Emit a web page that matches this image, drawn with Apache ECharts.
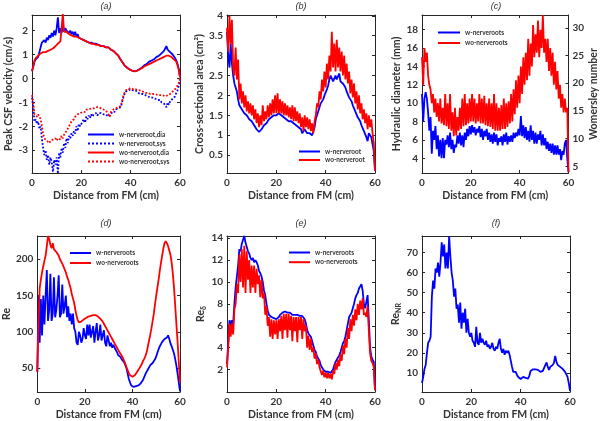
<!DOCTYPE html>
<html><head><meta charset="utf-8">
<script src="https://cdn.jsdelivr.net/npm/echarts@6/dist/echarts.min.js"></script>
<style>html,body{margin:0;padding:0;background:#fff}#c{width:600px;height:421px}</style>
</head><body><div id="c"></div>
<script>
// Distance from FM (cm)
const distance = [
0,0.5,1,1.5,2,2.5,3,3.5,4,4.5,
5,5.5,6,6.5,7,7.5,8,8.5,9,9.5,
10,10.5,11,11.5,12,12.5,13,13.5,14,14.5,
15,15.5,16,16.5,17,17.5,18,18.5,19,19.5,
20,20.5,21,21.5,22,22.5,23,23.5,24,24.5,
25,25.5,26,26.5,27,27.5,28,28.5,29,29.5,
30,30.5,31,31.5,32,32.5,33,33.5,34,34.5,
35,35.5,36,36.5,37,37.5,38,38.5,39,39.5,
40,40.5,41,41.5,42,42.5,43,43.5,44,44.5,
45,45.5,46,46.5,47,47.5,48,48.5,49,49.5,
50,50.5,51,51.5,52,52.5,53,53.5,54,54.5,
55,55.5,56,56.5,57,57.5,58,58.5,59,59.5,
60];

// (a) Peak CSF velocity (cm/s)
const velWDia = [
0.3,0.5,0.7,0.8,0.75,0.9,1.1,1.3,1.5,1.45,
1.6,1.5,1.7,1.6,1.8,1.7,1.9,1.75,2.0,1.8,
2.1,2.55,1.9,2.1,1.9,2.2,1.95,2.1,2.0,2.05,
1.9,2.0,1.85,1.95,1.8,1.95,1.75,1.85,1.7,1.75,
1.65,1.7,1.6,1.65,1.55,1.6,1.5,1.55,1.5,1.55,
1.45,1.5,1.45,1.5,1.4,1.45,1.35,1.4,1.35,1.4,
1.3,1.35,1.3,1.35,1.2,1.25,1.15,1.2,1.05,1.1,
0.95,0.85,0.8,0.7,0.65,0.55,0.5,0.45,0.4,0.38,
0.35,0.33,0.3,0.3,0.3,0.32,0.35,0.38,0.4,0.45,
0.5,0.55,0.55,0.6,0.65,0.7,0.7,0.75,0.8,0.8,
0.85,0.9,0.9,0.95,1.0,1.05,1.05,1.15,1.25,1.35,
1.2,1.15,1.1,1.1,1.0,0.95,0.85,0.75,0.6,0.4,
0.05];
const velWSys = [
-0.8,-1.2,-1.8,-1.7,-1.9,-1.8,-2.1,-2.0,-2.5,-2.9,
-3.2,-3.0,-3.4,-3.2,-3.6,-3.3,-3.5,-3.9,-3.4,-3.6,
-3.3,-3.98,-3.1,-3.3,-2.9,-3.1,-2.7,-2.9,-2.5,-2.7,
-2.4,-2.5,-2.3,-2.4,-2.2,-2.3,-2.0,-2.2,-1.9,-2.0,
-1.9,-1.8,-1.7,-1.85,-1.6,-1.7,-1.55,-1.65,-1.5,-1.6,
-1.5,-1.55,-1.45,-1.55,-1.45,-1.5,-1.45,-1.5,-1.5,-1.55,
-1.5,-1.55,-1.6,-1.65,-1.5,-1.4,-1.35,-1.4,-1.3,-1.25,
-1.25,-1.3,-1.2,-1.0,-0.8,-0.65,-0.55,-0.5,-0.5,-0.5,
-0.45,-0.5,-0.5,-0.55,-0.5,-0.55,-0.6,-0.6,-0.65,-0.6,
-0.65,-0.65,-0.7,-0.7,-0.75,-0.75,-0.8,-0.75,-0.8,-0.85,
-0.85,-0.9,-0.9,-0.95,-0.9,-1.0,-0.95,-1.05,-1.1,-1.2,
-1.0,-1.1,-0.95,-0.9,-0.85,-0.8,-0.75,-0.6,-0.5,-0.3,
0];
const velWoDia = [
0.3,0.5,0.75,0.85,0.85,0.95,1.0,1.05,1.05,1.1,
1.1,1.1,1.15,1.15,1.2,1.2,1.25,1.25,1.3,1.35,
1.4,1.45,1.5,1.55,1.6,2.7,1.95,1.9,1.95,1.9,
1.85,1.85,1.8,1.8,1.75,1.75,1.75,1.7,1.7,1.65,
1.65,1.6,1.6,1.55,1.55,1.5,1.5,1.5,1.45,1.45,
1.45,1.45,1.4,1.4,1.4,1.4,1.35,1.35,1.35,1.35,
1.3,1.3,1.3,1.3,1.2,1.2,1.15,1.15,1.05,1.05,
0.95,0.85,0.8,0.7,0.65,0.55,0.5,0.45,0.4,0.38,
0.35,0.33,0.3,0.3,0.3,0.32,0.35,0.37,0.4,0.43,
0.45,0.5,0.5,0.55,0.55,0.6,0.6,0.65,0.65,0.7,
0.7,0.75,0.75,0.8,0.8,0.85,0.85,0.9,0.9,0.95,
0.95,0.95,0.9,0.9,0.85,0.8,0.75,0.7,0.55,0.35,
0.05];
const velWoSys = [
-0.7,-1.0,-1.5,-1.45,-1.6,-1.5,-1.6,-1.7,-2.0,-2.3,
-2.5,-2.45,-2.6,-2.55,-2.7,-2.6,-2.65,-2.55,-2.6,-2.5,
-2.6,-2.5,-2.45,-2.55,-2.4,-2.5,-2.35,-2.3,-2.2,-2.1,
-2.0,-1.9,-1.8,-1.75,-1.7,-1.6,-1.55,-1.5,-1.45,-1.45,
-1.4,-1.4,-1.35,-1.4,-1.3,-1.35,-1.3,-1.3,-1.25,-1.3,
-1.25,-1.3,-1.2,-1.25,-1.2,-1.25,-1.25,-1.3,-1.3,-1.35,
-1.35,-1.4,-1.5,-1.6,-1.4,-1.35,-1.3,-1.35,-1.25,-1.2,
-1.2,-1.25,-1.15,-0.95,-0.75,-0.6,-0.5,-0.45,-0.45,-0.45,
-0.4,-0.45,-0.45,-0.5,-0.45,-0.5,-0.5,-0.55,-0.5,-0.55,
-0.55,-0.55,-0.6,-0.55,-0.6,-0.6,-0.65,-0.6,-0.65,-0.65,
-0.65,-0.7,-0.7,-0.7,-0.7,-0.75,-0.7,-0.75,-0.75,-0.75,
-0.7,-0.7,-0.65,-0.6,-0.55,-0.5,-0.45,-0.4,-0.3,-0.2,
0];

// (b) Cross-sectional area (cm2)
const areaW = [
3.6,3.0,2.7,3.3,2.8,2.5,2.3,2.2,2.1,1.9,
1.75,1.7,1.65,1.6,1.55,1.5,1.5,1.45,1.4,1.35,
1.35,1.3,1.25,1.2,1.15,1.1,1.08,1.1,1.15,1.2,
1.25,1.3,1.3,1.35,1.4,1.4,1.45,1.45,1.5,1.5,
1.5,1.5,1.55,1.5,1.5,1.45,1.45,1.45,1.4,1.4,
1.35,1.35,1.35,1.3,1.3,1.3,1.25,1.25,1.2,1.15,
1.15,1.05,1.1,1.15,1.1,1.05,1.1,1.05,1.0,1.0,
0.98,1.2,1.4,1.5,1.6,1.7,1.8,1.85,1.9,2.0,
2.05,2.15,2.25,2.4,2.5,2.45,2.35,2.4,2.5,2.4,
2.45,2.55,2.35,2.4,2.3,2.25,2.2,2.1,2.05,1.95,
1.9,1.85,1.75,1.7,1.6,1.55,1.45,1.4,1.35,1.25,
1.2,1.1,1.05,0.95,0.85,1.05,1.1,0.95,0.9,0.6,
0.1];
const areaWo = [
3.7,3.1,4.0,3.3,3.9,2.7,2.5,3.2,2.4,2.9,
1.9,2.3,1.8,2.1,1.7,2.0,1.6,1.85,1.55,1.8,
1.5,1.75,1.4,1.65,1.3,1.55,1.2,1.5,1.25,1.75,
1.35,1.6,1.4,1.75,1.45,1.8,1.5,1.9,1.55,2.0,
1.55,2.05,1.55,1.9,1.55,1.85,1.5,1.8,1.5,1.75,
1.45,1.7,1.4,1.75,1.35,1.7,1.35,1.6,1.3,1.55,
1.2,1.45,1.1,1.5,1.2,1.45,1.15,1.4,1.1,1.3,
1.05,1.35,1.5,1.8,1.7,2.1,1.9,2.4,2.1,2.6,
2.2,2.8,2.4,3.0,2.6,3.6,2.7,3.3,2.6,3.4,
2.7,3.2,2.6,3.1,2.5,3.0,2.4,2.8,2.3,2.6,
2.05,2.4,1.95,2.3,1.8,2.1,1.65,2.0,1.55,1.8,
1.4,1.65,1.3,1.55,1.15,1.5,1.2,1.4,1.05,0.8,
0.1];

// (c) Hydraulic diameter (mm)
const dhW = [
11.0,8.0,10.5,11.2,10.5,9.0,7.0,8.5,4.5,7.0,
6.0,7.5,5.0,6.5,4.2,6.0,4.0,6.2,4.0,6.0,
5.5,6.5,5.2,6.8,5.0,6.0,4.6,5.5,5.2,6.5,
5.6,6.8,5.4,6.5,5.2,6.8,6.0,7.2,6.4,7.5,
6.6,7.6,6.8,7.4,6.5,7.2,6.8,7.5,6.3,7.2,
6.0,7.0,6.4,7.2,6.0,6.8,5.8,6.6,5.6,6.8,
5.8,6.6,5.4,6.2,5.8,6.4,5.4,6.6,5.8,6.8,
5.5,6.4,5.8,6.5,5.8,6.8,6.2,6.8,6.4,7.2,
6.5,8.6,6.4,7.6,6.2,7.4,6.0,7.0,5.8,7.6,
6.0,7.0,5.6,6.8,5.6,6.6,6.0,7.0,5.4,6.6,
5.4,6.2,5.0,5.8,4.8,5.6,4.6,5.6,4.4,5.4,
4.4,5.4,4.4,5.0,3.8,4.8,4.4,5.6,6.0,4.0,
2.5];
const dhWo = [
15.0,12.0,16.0,14.5,15.5,13.0,12.0,11.5,10.0,11.0,
9.0,10.5,8.5,10.0,8.0,10.5,7.8,9.5,7.6,11.0,
7.5,10.0,7.2,11.0,7.0,9.0,6.4,9.5,6.5,8.5,
7.0,9.5,7.2,10.5,7.5,11.0,7.6,10.0,7.8,10.5,
8.0,11.0,8.0,10.5,7.8,10.0,8.0,11.0,7.8,10.5,
7.8,10.8,7.6,10.0,7.5,10.5,7.4,10.0,7.2,11.0,
7.0,10.0,7.0,9.5,7.0,9.8,7.2,10.5,7.2,10.0,
7.4,10.2,7.8,11.0,8.0,11.5,8.8,12.5,9.5,13.0,
10.0,14.0,11.0,15.0,12.0,15.5,12.5,17.0,13.0,16.5,
14.0,18.5,15.0,17.5,15.5,19.0,15.0,18.0,16.0,19.6,
15.5,17.0,14.5,17.0,13.5,16.0,13.0,15.5,12.0,14.5,
11.5,13.5,10.5,12.0,9.5,11.0,9.0,10.5,9.0,9.5,
2.5];

// (d) Re
const reW = [
45,150,85,145,95,150,110,150,185,115,
130,180,115,125,175,120,130,150,178,120,
125,165,125,135,150,120,135,115,125,110,
125,105,100,85,82,100,95,85,90,105,
95,90,110,95,110,92,100,108,85,100,
112,88,95,110,88,95,102,85,80,95,
88,80,85,78,82,78,76,72,68,66,
65,62,60,58,57,50,42,35,30,26,
24,24,24,25,26,26,27,29,30,34,
38,42,45,48,51,54,56,57,58,62,
66,71,76,80,83,86,88,90,91,92,
95,90,84,80,78,70,62,53,42,30,
18];
const reWo = [
45,110,160,172,182,190,198,205,218,232,
228,220,215,222,214,216,210,208,205,200,
198,194,190,186,182,176,172,166,160,152,
146,140,130,122,116,113,112,114,116,117,
118,119,120,121,121,122,122,123,123,123,
122,121,120,118,116,114,111,108,105,102,
99,96,93,90,87,84,81,78,75,72,
70,67,64,60,56,51,47,43,40,38,
38,39,40,42,45,47,50,53,56,60,
63,67,72,80,88,96,105,115,125,138,
150,161,172,184,195,205,215,222,225,222,
218,212,206,195,180,160,135,110,85,58,
30];

// (e) Re_delta
const redW = [
2.5,4.5,6.5,6.0,6.5,6.2,8.0,9.5,10.5,11.5,
13.0,12.8,13.5,13.4,14.2,13.6,13.5,12.8,12.6,12.2,
12.0,12.2,11.8,12.0,11.8,11.5,11.0,10.8,10.5,10.0,
9.2,8.8,8.0,7.4,7.0,6.9,6.8,6.8,6.7,6.6,
6.6,6.7,6.8,7.0,7.1,7.2,7.3,7.3,7.3,7.2,
7.3,7.2,7.1,7.0,7.0,7.0,6.9,7.0,7.0,6.9,
7.0,6.9,6.8,6.6,6.2,5.6,5.3,5.2,5.0,4.6,
4.2,3.8,3.6,3.2,3.0,2.8,2.4,2.2,2.0,1.9,
1.8,1.7,1.8,1.7,1.7,1.8,2.0,2.4,2.7,2.9,
3.0,3.3,3.6,4.0,4.4,4.6,5.0,5.6,6.2,6.8,
7.0,7.2,7.6,8.0,8.5,8.8,9.0,9.4,9.6,9.8,
9.2,8.0,7.6,8.2,8.8,6.5,4.0,3.2,2.9,2.7,
0.2];
const redWo = [
2.2,4.0,6.2,5.0,6.2,5.2,7.5,8.0,9.8,9.0,
12.5,10.0,13.0,9.5,13.3,9.0,12.8,10.2,12.0,9.0,
11.5,9.5,11.5,9.0,11.2,9.8,10.6,8.6,10.2,8.5,
9.0,7.0,7.8,6.0,6.8,5.0,6.6,4.8,6.5,5.2,
6.5,4.8,6.6,5.5,6.9,4.8,7.1,5.6,7.1,4.9,
7.1,5.6,6.9,4.6,6.8,5.5,6.8,4.5,6.8,5.6,
6.8,4.8,6.6,5.5,6.0,4.0,5.1,3.8,4.8,3.6,
4.0,3.0,3.5,2.5,2.9,2.2,2.3,1.5,1.9,1.3,
1.7,1.2,1.7,1.2,1.6,1.1,1.9,1.6,2.6,2.0,
2.9,2.3,3.4,2.8,4.2,3.4,4.8,4.0,5.8,4.8,
6.6,5.5,7.0,6.0,7.5,6.5,8.0,7.0,8.3,7.5,
8.5,7.0,7.2,6.8,7.8,5.5,3.5,2.8,2.6,2.2,
0.1];

// (f) Re_NR
const reNR = [
5,8,12,14,20,25,26,28,48,56,
52,62,60,65,58,65,75,68,74,62,
70,62,78,68,60,56,48,52,42,44,
35,45,32,40,35,42,30,37,30,28,
30,26,25,23,33,25,24,30,25,27,
25,24,26,23,24,22,23,25,22,21,
23,22,25,27,22,20,22,19,21,20,
21,19,16,13,10.5,10,10.5,9,8,7.2,
7,7.5,8,7.5,7.5,7.2,7.2,8.5,11,11.5,
11.8,11.8,11.8,11.5,11.5,11.2,10.5,10,11,12.5,
13,15.2,13,11.5,13,13.5,14,15,18.5,15.5,
14,13.5,13,12.5,12,12,10.5,10,8,5,
1];

// legend labels
const legA = ['w-nerveroot,dia','w-nerveroot,sys','wo-nerveroot,dia','wo-nerveroot,sys'];
const legB = ['w-nerveroot','wo-nerveroot'];
const legC = ['w-nerveroots','wo-nerveroots'];

const BLUE = '#0000ff', RED = '#ff0000', AX = '#262626', TXT = '#333333';
const FONT = 'Lato';

const panels = [
  {title:'(a)', left:32, top:15, yName:'Peak CSF velocity (cm/s)', yGap:14, ymin:-3.95, ymax:2.65, yticks:[-3,-2,-1,0,1,2],
   series:[[legA[0],velWDia,BLUE,'solid'],[legA[1],velWSys,BLUE,'dotted'],[legA[2],velWoDia,RED,'solid'],[legA[3],velWoSys,RED,'dotted']]},
  {title:'(b)', left:227, top:15, yName:'Cross-sectional area (cm²)', yGap:18, ymin:0.05, ymax:4.02, yticks:[0.5,1,1.5,2,2.5,3,3.5,4],
   series:[[legB[0],areaW,BLUE,'solid'],[legB[1],areaWo,RED,'solid']]},
  {title:'(c)', left:422, top:15, yName:'Hydraulic diameter (mm)', yGap:16, ymin:2.4, ymax:19.6, yticks:[4,6,8,10,12,14,16,18],
   right:{name:'Womersley number', min:3.8, max:32.3, ticks:[5,10,15,20,25,30]},
   series:[[legC[0],dhW,BLUE,'solid'],[legC[1],dhWo,RED,'solid']]},
  {title:'(d)', left:32, top:236, yName:'Re', yGap:20, ymin:17, ymax:232, yticks:[50,100,150,200],
   series:[[legC[0],reW,BLUE,'solid'],[legC[1],reWo,RED,'solid']]},
  {title:'(e)', left:227, top:236, yName:'{a|Re}{b|δ}', yGap:16, ymin:-0.05, ymax:14.2, yticks:[2,4,6,8,10,12,14],
   series:[[legC[0],redW,BLUE,'solid'],[legC[1],redWo,RED,'solid']]},
  {title:'(f)', left:422, top:236, yName:'{a|Re}{b|NR}', yGap:18, ymin:0.5, ymax:78.2, yticks:[10,20,30,40,50,60,70],
   series:[[legC[0],reNR,BLUE,'solid']]}
];
const W = 148, H = 158;

const grid=[], xAxis=[], yAxis=[], series=[], title=[];
const labelStyle = {color:TXT, fontFamily:FONT, fontWeight:'bold', fontSize:10};
const nameStyle = {color:TXT, fontFamily:FONT, fontWeight:'bold', fontSize:10.5,
  rich:{a:{color:TXT, fontFamily:FONT, fontWeight:'bold', fontSize:10.5}, b:{color:TXT, fontFamily:FONT, fontWeight:'bold', fontSize:7, padding:[6,0,0,0]}}};

panels.forEach((p,i)=>{
  grid.push({left:p.left, top:p.top, width:W, height:H, containLabel:false});
  title.push({text:p.title, left:p.left+W/2, top:(p.top < 100 ? 1.5 : 218.5), textAlign:'center', padding:0,
    textStyle:{fontSize:9, fontStyle:'italic', fontWeight:'normal', color:TXT, fontFamily:'Liberation Sans'}});
  const xb = xAxis.length;
  xAxis.push({type:'value', gridIndex:i, position:'bottom', min:0, max:60, interval:20,
    name:'Distance from FM (cm)', nameLocation:'middle', nameGap: 17, nameTextStyle:nameStyle,
    axisLine:{show:true, onZero:false, lineStyle:{color:AX, width:1}},
    axisTick:{show:true, inside:true, length:3, lineStyle:{color:AX}},
    axisLabel:{...labelStyle, margin:5}, splitLine:{show:false}});
  xAxis.push({type:'value', gridIndex:i, position:'top', min:0, max:60, interval:20,
    axisLine:{show:true, onZero:false, lineStyle:{color:AX, width:1}},
    axisTick:{show:true, inside:true, length:3, lineStyle:{color:AX}},
    axisLabel:{show:false}, splitLine:{show:false}});
  const yb = yAxis.length;
  yAxis.push({type:'value', gridIndex:i, position:'left', min:p.ymin, max:p.ymax,
    name:p.yName, nameLocation:'middle', nameGap:p.yGap, nameTextStyle:nameStyle,
    axisLine:{show:true, onZero:false, lineStyle:{color:AX, width:1}},
    axisTick:{show:true, inside:true, length:3, lineStyle:{color:AX}, customValues:p.yticks},
    axisLabel:{...labelStyle, margin:4, customValues:p.yticks}, splitLine:{show:false}});
  if (p.right) {
    yAxis.push({type:'value', gridIndex:i, position:'right', min:p.right.min, max:p.right.max,
      name:p.right.name, nameLocation:'middle', nameGap:17, nameRotate:90, nameTextStyle:nameStyle,
      axisLine:{show:true, onZero:false, lineStyle:{color:AX, width:1}},
      axisTick:{show:true, inside:true, length:3, lineStyle:{color:AX}, customValues:p.right.ticks},
      axisLabel:{...labelStyle, margin:4, customValues:p.right.ticks}, splitLine:{show:false}});
  } else {
    yAxis.push({type:'value', gridIndex:i, position:'right', min:p.ymin, max:p.ymax,
      axisLine:{show:true, onZero:false, lineStyle:{color:AX, width:1}},
      axisTick:{show:true, inside:true, length:3, lineStyle:{color:AX}, customValues:p.yticks},
      axisLabel:{show:false}, splitLine:{show:false}});
  }
  p.series.forEach(s=>{
    series.push({type:'line', name:s[0], xAxisIndex:xb, yAxisIndex:yb,
      data: distance.map((d,k)=>[d, s[1][k]]),
      showSymbol:false, symbol:'none', clip:true, silent:true,
      lineStyle:{color:s[2], width:1.8, type:s[3]}, itemStyle:{color:s[2]}});
  });
});

const legTxt = {color:TXT, fontFamily:FONT, fontWeight:'bold', fontSize:6.5};
const legBase = {orient:'vertical', padding:0, itemHeight:6, textStyle:legTxt,
  itemStyle:{opacity:0, borderWidth:0}, selectedMode:false};
const legend = [
  {...legBase, data:legA, left:87, top:131, itemWidth:26, itemGap:2},
  {...legBase, data:legB, left:298, top:148, itemWidth:21, itemGap:1.5},
  {...legBase, data:legC, left:437, top:29, itemWidth:22, itemGap:3.5},
  {...legBase, data:legC, left:69, top:249.5, itemWidth:21, itemGap:3},
  {...legBase, data:legC, left:288, top:249, itemWidth:21, itemGap:2.7}
];

const chart = echarts.init(document.getElementById('c'), null, {renderer:'canvas'});
chart.setOption({animation:false, backgroundColor:'#fff', title, grid, xAxis, yAxis, series, legend});
</script>
</body></html>
